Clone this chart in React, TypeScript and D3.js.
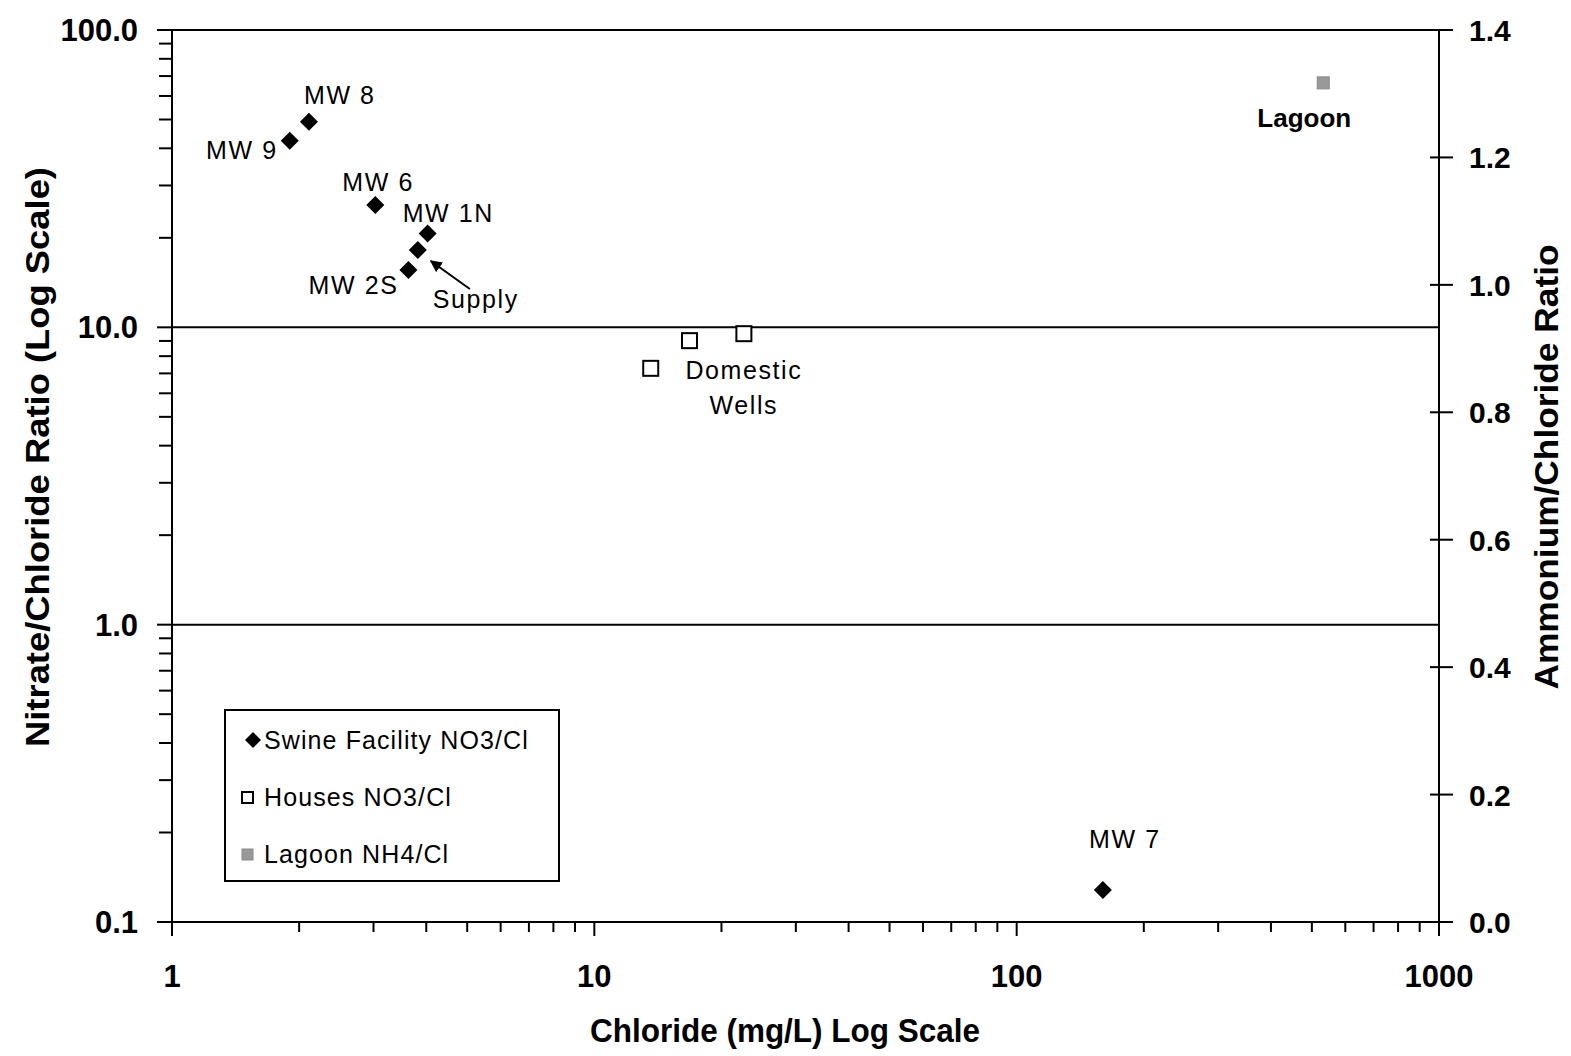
import React from "react";
import * as d3 from "d3";

// ---- data ----
const swineNames = ["MW 9", "MW 8", "MW 6", "MW 1N", "Supply", "MW 2S", "MW 7"];
const swineChloride = [1.9, 2.11, 3.03, 4.03, 3.82, 3.63, 160];
const swineRatio = [42.4, 49.1, 25.8, 20.7, 18.2, 15.6, 0.128];

const houseChloride = [13.6, 16.8, 22.6];
const houseRatio = [7.28, 9.02, 9.52];

const lagoonChloride = [532];
const lagoonRatio = [1.317];

const xTicks = [1, 10, 100, 1000];
const yLeftTicks = [0.1, 1, 10, 100];
const yRightTicks = [0, 0.2, 0.4, 0.6, 0.8, 1.0, 1.2, 1.4];

const legendLabels = ["Swine Facility NO3/Cl", "Houses NO3/Cl", "Lagoon NH4/Cl"];

// label placements (pixel offsets from each point)
const swineLabelOffsets: Record<string, [number, number, string]> = {
  "MW 9": [-12, 18, "end"],
  "MW 8": [-5, -18, "start"],
  "MW 6": [-33, -14, "start"],
  "MW 1N": [-25, -11, "start"],
  Supply: [15, 58, "start"],
  "MW 2S": [-10, 24, "end"],
  "MW 7": [22, -42, "middle"],
};

const W = 1571;
const H = 1056;
const L = 172;
const R = 1439;
const T = 30;
const B = 922;

const FONT = "'Liberation Sans', Arial, Helvetica, sans-serif";

const diamond = (cx: number, cy: number, r: number) =>
  `M${cx},${cy - r}L${cx + r},${cy}L${cx},${cy + r}L${cx - r},${cy}Z`;

export default function App() {
  const x = d3.scaleLog().domain([1, 1000]).range([L, R]);
  const yL = d3.scaleLog().domain([0.1, 100]).range([B, T]);
  const yR = d3.scaleLinear().domain([0, 1.4]).range([B, T]);

  // minor ticks
  const xMinor: number[] = [];
  const yMinor: number[] = [];
  for (let e = 0; e < 3; e++) {
    for (let k = 2; k <= 9; k++) xMinor.push(k * Math.pow(10, e));
  }
  for (let e = -1; e < 2; e++) {
    for (let k = 2; k <= 9; k++) yMinor.push(k * Math.pow(10, e));
  }

  const labelStyle = {
    fontFamily: FONT,
    fontSize: 25,
    letterSpacing: "1.6px",
    fill: "#000",
  } as React.CSSProperties;

  const supplyIdx = swineNames.indexOf("Supply");
  const sx = x(swineChloride[supplyIdx]);
  const sy = yL(swineRatio[supplyIdx]);

  const h3x = x(houseChloride[2]);
  const h3y = yL(houseRatio[2]);

  return (
    <svg
      width={W}
      height={H}
      style={{ position: "absolute", left: 0, top: 0, background: "#fff" }}
    >
      <defs>
        <marker
          id="arrowhead"
          viewBox="0 0 10 10"
          refX="9"
          refY="5"
          markerWidth="6"
          markerHeight="6"
          orient="auto-start-reverse"
        >
          <path d="M0,0L10,5L0,10Z" fill="#000" />
        </marker>
      </defs>
      <rect x={0} y={0} width={W} height={H} fill="#fff" />

      {/* gridlines */}
      {[1, 10].map((v) => (
        <line key={"g" + v} x1={L} x2={R} y1={yL(v)} y2={yL(v)} stroke="#000" strokeWidth={2} />
      ))}

      {/* plot frame */}
      <rect x={L} y={T} width={R - L} height={B - T} fill="none" stroke="#000" strokeWidth={2} />

      {/* x axis ticks */}
      {xMinor.map((v) => (
        <line key={"xm" + v} x1={x(v)} x2={x(v)} y1={B} y2={B + 10} stroke="#000" strokeWidth={2} />
      ))}
      {xTicks.map((v) => (
        <g key={"xt" + v}>
          <line x1={x(v)} x2={x(v)} y1={B} y2={B + 14} stroke="#000" strokeWidth={2} />
          <text
            x={x(v)}
            y={987}
            textAnchor="middle"
            style={{ fontFamily: FONT, fontSize: 31, fontWeight: "bold" }}
          >
            {d3.format("d")(v)}
          </text>
        </g>
      ))}

      {/* left axis ticks */}
      {yMinor.map((v) => (
        <line key={"ym" + v} x1={L - 13} x2={L} y1={yL(v)} y2={yL(v)} stroke="#000" strokeWidth={2} />
      ))}
      {yLeftTicks.map((v) => (
        <g key={"yt" + v}>
          <line x1={L - 15} x2={L} y1={yL(v)} y2={yL(v)} stroke="#000" strokeWidth={2} />
          <text
            x={138}
            y={yL(v) + 11}
            textAnchor="end"
            style={{ fontFamily: FONT, fontSize: 31, fontWeight: "bold" }}
          >
            {d3.format(".1f")(v)}
          </text>
        </g>
      ))}

      {/* right axis ticks */}
      {yRightTicks.map((v) => (
        <g key={"yr" + v}>
          <line x1={R - 9} x2={R + 14} y1={yR(v)} y2={yR(v)} stroke="#000" strokeWidth={2} />
          <text
            x={1469}
            y={yR(v) + 11}
            textAnchor="start"
            style={{ fontFamily: FONT, fontSize: 30, fontWeight: "bold" }}
          >
            {d3.format(".1f")(v)}
          </text>
        </g>
      ))}

      {/* axis titles */}
      <text
        x={785}
        y={1042}
        textAnchor="middle"
        textLength={390}
        lengthAdjust="spacingAndGlyphs"
        style={{ fontFamily: FONT, fontSize: 33, fontWeight: "bold" }}
      >
        Chloride (mg/L) Log Scale
      </text>
      <text
        transform={`translate(49,457) rotate(-90)`}
        textAnchor="middle"
        textLength={580}
        lengthAdjust="spacingAndGlyphs"
        style={{ fontFamily: FONT, fontSize: 34, fontWeight: "bold" }}
      >
        Nitrate/Chloride Ratio (Log Scale)
      </text>
      <text
        transform={`translate(1558,467) rotate(-90)`}
        textAnchor="middle"
        textLength={445}
        lengthAdjust="spacingAndGlyphs"
        style={{ fontFamily: FONT, fontSize: 34, fontWeight: "bold" }}
      >
        Ammonium/Chloride Ratio
      </text>

      {/* houses */}
      {houseChloride.map((c, i) => (
        <rect
          key={"h" + i}
          x={x(c) - 7.5}
          y={yL(houseRatio[i]) - 7.5}
          width={15}
          height={15}
          fill="#fff"
          stroke="#000"
          strokeWidth={2}
        />
      ))}

      {/* swine */}
      {swineChloride.map((c, i) => (
        <path key={"s" + i} d={diamond(x(c), yL(swineRatio[i]), 9)} fill="#000" />
      ))}

      {/* lagoon */}
      {lagoonChloride.map((c, i) => (
        <rect
          key={"l" + i}
          x={x(c) - 6}
          y={yR(lagoonRatio[i]) - 6}
          width={12}
          height={12}
          fill="#999"
          stroke="#8a8a8a"
          strokeWidth={1}
        />
      ))}

      {/* point labels */}
      {swineNames.map((n, i) => {
        const [dx, dy, anchor] = swineLabelOffsets[n];
        return (
          <text
            key={"sl" + n}
            x={x(swineChloride[i]) + dx}
            y={yL(swineRatio[i]) + dy}
            textAnchor={anchor as any}
            style={labelStyle}
          >
            {n}
          </text>
        );
      })}
      <line
        x1={sx + 52}
        y1={sy + 39}
        x2={sx + 13}
        y2={sy + 11}
        stroke="#000"
        strokeWidth={2}
        markerEnd="url(#arrowhead)"
      />
      <text x={h3x} y={h3y + 45} textAnchor="middle" style={labelStyle}>
        Domestic
      </text>
      <text x={h3x} y={h3y + 80} textAnchor="middle" style={labelStyle}>
        Wells
      </text>
      <text
        x={x(lagoonChloride[0]) - 19}
        y={yR(lagoonRatio[0]) + 44}
        textAnchor="middle"
        style={{ fontFamily: FONT, fontSize: 26, fontWeight: "bold" }}
      >
        Lagoon
      </text>

      {/* legend */}
      <rect x={225} y={710} width={334} height={171} fill="#fff" stroke="#000" strokeWidth={2} />
      <path d={diamond(253, 740, 8)} fill="#000" />
      <rect x={242} y={792} width={11} height={11} fill="#fff" stroke="#000" strokeWidth={2} />
      <rect x={242} y={849} width={11} height={11} fill="#999" stroke="#8a8a8a" strokeWidth={1} />
      {legendLabels.map((t, i) => (
        <text
          key={"lg" + i}
          x={264}
          y={749 + i * 57}
          style={{ fontFamily: FONT, fontSize: 25, letterSpacing: "1.1px" }}
        >
          {t}
        </text>
      ))}
    </svg>
  );
}
